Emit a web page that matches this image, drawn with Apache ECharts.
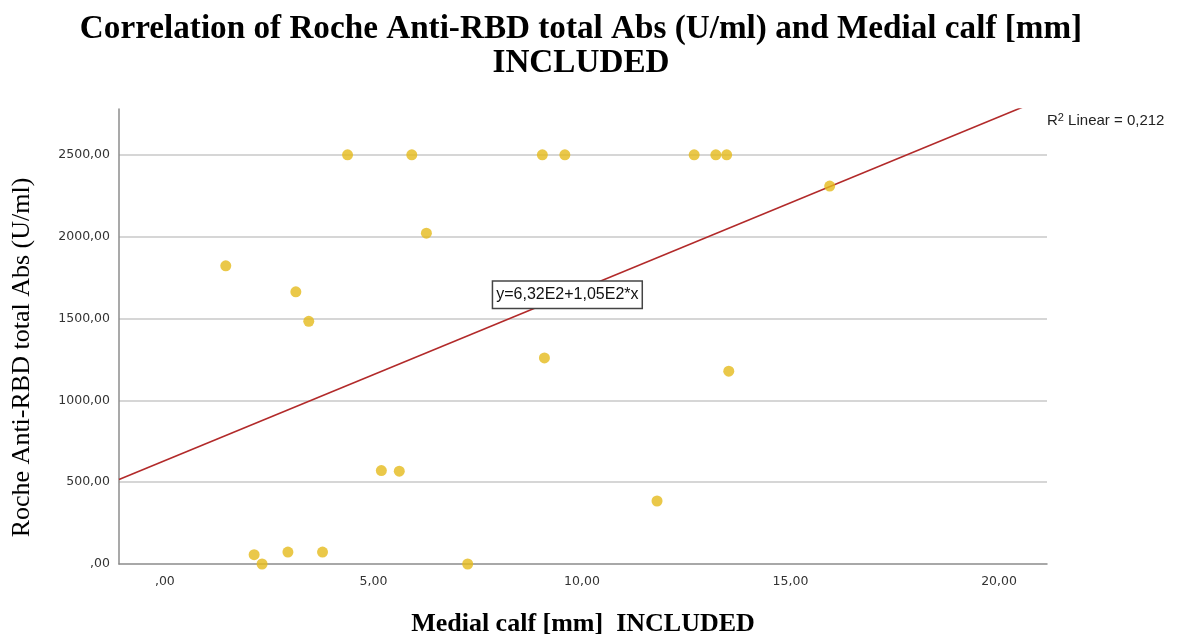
<!DOCTYPE html>
<html>
<head>
<meta charset="utf-8">
<script src="https://cdn.jsdelivr.net/npm/echarts@6/dist/echarts.min.js"></script>
<style>
  html, body { margin: 0; padding: 0; background: #fff; }
  #chart { width: 1178px; height: 637px; }
</style>
</head>
<body>
<div id="chart"></div>
<script>
// medial calf [mm] and Roche anti-RBD total Abs (U/ml)
const calfMm = [4.38, 5.92, 9.05, 9.59, 12.69, 13.21, 13.47,
  6.27, 1.46, 3.14, 3.45, 15.94, 9.10, 13.52, 11.80,
  5.19, 5.62, 2.14, 2.33, 2.95, 3.78, 7.26];
const antiRbd = [2500, 2500, 2500, 2500, 2500, 2500, 2500,
  2021, 1822, 1663, 1483, 2309, 1259, 1178, 385,
  571, 567, 57, 0, 73, 73, 0];

// fit line printed on the chart: y = 6,32E2 + 1,05E2 * x, R2 = 0,212
const intercept = 632;
const slope = 105;
const rSquared = '0,212';

const X_MIN = -1.1, X_MAX = 21.15;
const Y_MIN = 0, Y_MAX = 2780;

const points = calfMm.map((x, i) => [x, antiRbd[i]]);
const fitLine = [X_MIN, X_MAX].map(x => [x, intercept + slope * x]);

const fmt = v => {
  if (Math.abs(v) < 1e-9) return ',00';
  return v.toFixed(2).replace('.', ',');
};

const chart = echarts.init(document.getElementById('chart'));
chart.setOption({
  animation: false,
  backgroundColor: '#fff',
  title: {
    text: 'Correlation of Roche Anti-RBD total Abs (U/ml) and Medial calf [mm]\nINCLUDED',
    left: 581,
    textAlign: 'center',
    top: 12,
    padding: 0,
    textStyle: {
      fontFamily: 'Liberation Serif',
      fontWeight: 'bold',
      fontSize: 33.2,
      lineHeight: 34,
      color: '#000'
    }
  },
  grid: { left: 119, right: 131, top: 109, bottom: 73, containLabel: false, outerBoundsMode: 'none' },
  xAxis: {
    type: 'value',
    min: X_MIN,
    max: X_MAX,
    name: 'Medial calf [mm]  INCLUDED',
    nameLocation: 'middle',
    nameGap: 47,
    nameTextStyle: {
      fontFamily: 'Liberation Serif',
      fontWeight: 'bold',
      fontSize: 26,
      color: '#000'
    },
    axisLine: { show: true, onZero: false, lineStyle: { color: '#8c8c8c', width: 1.5 } },
    axisTick: { show: false },
    splitLine: { show: false },
    axisLabel: {
      margin: 11,
      fontFamily: 'DejaVu Sans',
      fontSize: 12.5,
      color: '#333',
      showMinLabel: false,
      showMaxLabel: false,
      formatter: v => (Math.abs(v / 5 - Math.round(v / 5)) < 1e-6 ? fmt(v) : '')
    }
  },
  yAxis: {
    type: 'value',
    min: Y_MIN,
    max: Y_MAX,
    interval: 500,
    name: 'Roche Anti-RBD total Abs (U/ml)',
    nameLocation: 'middle',
    nameGap: 84,
    nameTextStyle: {
      fontFamily: 'Liberation Serif',
      fontSize: 26,
      color: '#000',
      padding: [0, 42, 0, 0]
    },
    axisLine: { show: true, onZero: false, lineStyle: { color: '#8c8c8c', width: 1.5 } },
    axisTick: { show: false },
    splitLine: {
      show: true,
      showMinLine: false,
      showMaxLine: false,
      lineStyle: { color: '#c8c8c8', width: 1.5 }
    },
    axisLabel: {
      margin: 9,
      fontFamily: 'DejaVu Sans',
      fontSize: 12.5,
      color: '#333',
      formatter: v => (Math.abs(v / 500 - Math.round(v / 500)) < 1e-6 ? fmt(v) : '')
    }
  },
  series: [
    {
      type: 'line',
      data: fitLine,
      symbol: 'none',
      clip: true,
      lineStyle: { color: '#b22a2a', width: 1.6 },
      z: 3,
      markPoint: {
        symbol: 'rect',
        symbolSize: 1,
        itemStyle: { color: 'rgba(0,0,0,0)' },
        data: [{ coord: [9.65, 1645] }],
        label: {
          show: true,
          position: 'inside',
          formatter: 'y=6,32E2+1,05E2*x',
          fontFamily: 'Liberation Sans',
          fontSize: 16,
          color: '#111',
          backgroundColor: '#fff',
          borderColor: '#444',
          borderWidth: 1.5,
          padding: [5, 3, 5, 3]
        }
      }
    },
    {
      type: 'scatter',
      data: points,
      symbolSize: 11,
      itemStyle: { color: '#e5ba1c' },
      z: 4
    }
  ],
  graphic: [
    {
      type: 'text',
      left: 1047,
      top: 112,
      style: {
        text: 'R{sup|2} Linear = ' + rSquared,
        fontFamily: 'Liberation Sans',
        fontSize: 15,
        fill: '#222',
        rich: {
          sup: { fontSize: 11, verticalAlign: 'top', padding: [0, 0, 7, 0] }
        }
      }
    }
  ]
});
</script>
</body>
</html>
